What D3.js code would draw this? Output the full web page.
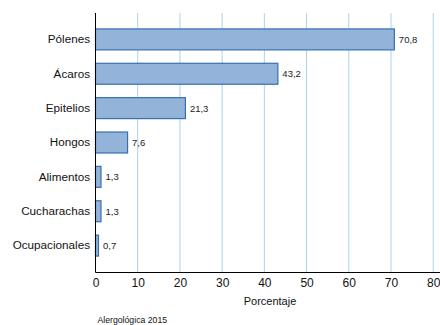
<!DOCTYPE html>
<html><head><meta charset="utf-8">
<script src="https://cdn.jsdelivr.net/npm/d3@7"></script>
<style>body{margin:0;background:#fff}svg{display:block;font-family:"Liberation Sans",Arial,sans-serif}</style>
</head><body><svg id="c" width="440" height="325"></svg>
<script>
const categories = ["Pólenes","Ácaros","Epitelios","Hongos","Alimentos","Cucharachas","Ocupacionales"];
const values = [70.8,43.2,21.3,7.6,1.3,1.3,0.7];
const valueLabels = ["70,8","43,2","21,3","7,6","1,3","1,3","0,7"];
const xTicks = [0,10,20,30,40,50,60,70,80];
const xTitle = "Porcentaje";
const source = "Alergológica 2015";

const svg = d3.select("#c");
const x = d3.scaleLinear().domain([0,80]).range([95.5,433.2]);
const y = d3.scaleBand().domain(categories).range([13,272]).paddingInner(0.39).paddingOuter(0.463);

svg.append("g").selectAll("line").data(xTicks.filter(d=>d>0)).join("line")
  .attr("x1",d=>x(d)).attr("x2",d=>x(d)).attr("y1",13).attr("y2",272)
  .attr("stroke","#a9d5e8").attr("stroke-width",1);

svg.append("g").selectAll("rect").data(values).join("rect")
  .attr("x",x(0)).attr("y",(d,i)=>y(categories[i]))
  .attr("width",d=>x(d)-x(0)).attr("height",y.bandwidth())
  .attr("fill","#93b3d8").attr("stroke","#3570b4").attr("stroke-width",1.2);

svg.append("g").selectAll("text").data(valueLabels).join("text")
  .attr("x",(d,i)=>x(values[i])+4.5).attr("y",(d,i)=>y(categories[i])+y.bandwidth()/2+3.5)
  .attr("font-size",9.5).attr("fill","#222").text(d=>d);

const yAxis = svg.append("g").attr("transform",`translate(${x(0)},0)`)
  .call(d3.axisLeft(y).tickSize(0).tickPadding(5.5));
yAxis.select(".domain").attr("stroke","#000").attr("d","M0,13V272.5");
yAxis.selectAll("text").attr("font-size",11.7).attr("fill","#111").attr("font-family","Liberation Sans, Arial, sans-serif");

const xAxis = svg.append("g").attr("transform","translate(0,272.5)")
  .call(d3.axisBottom(x).tickValues(xTicks).tickSize(0).tickPadding(6).tickFormat(d3.format("d")));
xAxis.select(".domain").attr("stroke","#000").attr("d",`M${x(0)},0H440`);
xAxis.selectAll("text").attr("font-size",12).attr("fill","#111").attr("font-family","Liberation Sans, Arial, sans-serif");

svg.append("text").attr("x",270).attr("y",305).attr("text-anchor","middle")
  .attr("font-size",11).attr("fill","#111").text(xTitle);
svg.append("text").attr("x",97.5).attr("y",323).attr("font-size",8.7).attr("fill","#111").text(source);
</script></body></html>
